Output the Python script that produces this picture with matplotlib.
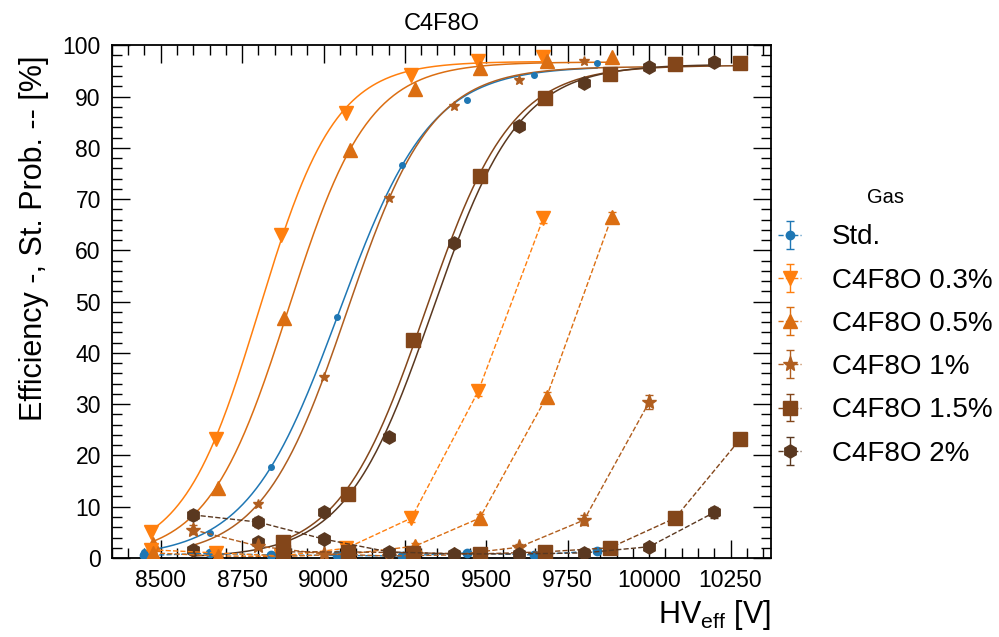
import numpy as np
import matplotlib
matplotlib.use("Agg")
import matplotlib.pyplot as plt
from matplotlib.ticker import MultipleLocator

plt.rcParams['font.family'] = ['Liberation Sans', 'DejaVu Sans']
plt.rcParams['mathtext.default'] = 'regular'

# gas mixtures
gases = ["Std.", "C4F8O 0.3%", "C4F8O 0.5%", "C4F8O 1%", "C4F8O 1.5%", "C4F8O 2%"]
colors = ["#1f77b4", "#ff7f0e", "#db6e12", "#b05e1f", "#83461a", "#5a3820"]
markers = ["o", "v", "^", "*", "s", "h"]
eff_ms = [4, 10, 10, 7, 9.5, 9.5]
st_ms = [6, 10, 10, 11, 9.5, 9.5]

# effective HV [V]
hv_std = [8450, 8650, 8840, 9040, 9240, 9440, 9645, 9840]
hv_03 = [8470, 8670, 8870, 9070, 9270, 9475, 9675]
hv_05 = [8475, 8675, 8880, 9080, 9280, 9480, 9685, 9885]
hv_1 = [8600, 8800, 9000, 9200, 9400, 9600, 9800, 10000]
hv_15 = [8875, 9075, 9275, 9480, 9680, 9880, 10080, 10280]
hv_2 = [8600, 8800, 9000, 9200, 9400, 9600, 9800, 10000, 10200]

# efficiency [%]
eff_std = [1.2, 4.9, 17.7, 47.0, 76.6, 89.3, 94.2, 96.6]
eff_03 = [5.0, 23.2, 63.0, 86.7, 94.2, 97.0, 97.8]
eff_05 = [2.8, 13.6, 46.8, 79.5, 91.4, 95.5, 97.0, 97.8]
eff_1 = [1.5, 10.5, 35.3, 70.2, 88.1, 93.2, 96.9, np.nan]
eff_15 = [3.1, 12.5, 42.5, 74.5, 89.7, 94.4, 96.4, 96.5]
eff_2 = [1.5, 3.1, 9.0, 23.6, 61.4, 84.2, 92.7, 95.7, 96.8]

# streamer probability [%]
st_std = [0.5, 0.9, 0.6, 0.5, 0.4, 1.0, 0.6, 1.4]
st_03 = [1.6, 1.0, 0.4, 1.9, 7.8, 32.5, 66.3]
st_05 = [1.0, 0.4, 0.3, 0.8, 2.3, 7.8, 31.4, 66.5]
st_1 = [5.5, 2.3, 0.8, 0.4, 0.6, 2.1, 7.4, 30.4]
st_15 = [1.2, 1.2, 1.0, 0.8, 1.2, 2.0, 7.8, 23.2]
st_2 = [8.4, 7.0, 3.7, 1.2, 0.8, 0.8, 1.0, 2.2, 8.9]

st_err_std = [0.3, 0.4, 0.3, 0.3, 0.3, 0.4, 0.3, 0.5]
st_err_03 = [0.5, 0.4, 0.3, 0.5, 0.8, 1.0, 1.0]
st_err_05 = [0.4, 0.3, 0.3, 0.4, 0.6, 0.8, 1.0, 1.0]
st_err_1 = [0.9, 0.6, 0.4, 0.3, 0.3, 0.6, 1.0, 1.4]
st_err_15 = [0.5, 0.5, 0.4, 0.4, 0.5, 0.6, 0.8, 1.0]
st_err_2 = [1.0, 1.0, 0.7, 0.5, 0.4, 0.4, 0.4, 0.6, 1.0]

hvs = [hv_std, hv_03, hv_05, hv_1, hv_15, hv_2]
effs = [eff_std, eff_03, eff_05, eff_1, eff_15, eff_2]
sts = [st_std, st_03, st_05, st_1, st_15, st_2]
st_errs = [st_err_std, st_err_03, st_err_05, st_err_1, st_err_15, st_err_2]


def sigmoid(x, emax, lam, hv50):
    return emax / (1 + np.exp(-lam * (x - hv50)))


def fit_sigmoid(x, y):
    # small Levenberg-Marquardt in scaled units (x in 100 V)
    x = np.asarray(x, float)
    y = np.asarray(y, float)
    m = ~np.isnan(y)
    u, y = (x[m] - 9000) / 100.0, y[m]
    p = np.array([y.max(), 0.8, np.interp(y.max() / 2, y, u)])
    damp = 1e-2
    f = lambda q: sigmoid(u, *q)
    cost = np.sum((y - f(p)) ** 2)
    for _ in range(200):
        r = y - f(p)
        J = np.empty((len(u), 3))
        for i in range(3):
            dp = np.zeros(3)
            dp[i] = 1e-6 * max(abs(p[i]), 1e-3)
            J[:, i] = (f(p + dp) - f(p)) / dp[i]
        A = J.T @ J
        step = np.linalg.solve(A + damp * np.diag(np.diag(A)), J.T @ r)
        new = p + step
        new_cost = np.sum((y - f(new)) ** 2)
        if new_cost < cost:
            p, cost, damp = new, new_cost, damp * 0.3
        else:
            damp *= 10
    return p[0], p[1] / 100.0, p[2] * 100.0 + 9000


fig, ax = plt.subplots(figsize=(9.99, 6.37), dpi=100)
fig.subplots_adjust(left=0.112, right=0.772, bottom=0.124, top=0.929)

handles = []
for i, gas in enumerate(gases):
    hv = np.array(hvs[i], float)
    eff = np.array(effs[i], float)
    c = colors[i]
    emax, lam, hv50 = fit_sigmoid(hv, eff)
    xs = np.linspace(hv.min(), hv.max(), 300)
    ax.plot(xs, sigmoid(xs, emax, lam, hv50), '-', color=c, lw=1.1, zorder=3)
    ax.plot(hv, eff, linestyle='none', marker=markers[i], ms=eff_ms[i],
            color=c, mec=c, zorder=4)
    eb = ax.errorbar(hv, sts[i], yerr=st_errs[i], fmt='--', marker=markers[i],
                     ms=st_ms[i], color=c, lw=1.0, elinewidth=1.0, capsize=3,
                     zorder=4)
    handles.append(eb)

ax.set_xlim(8350, 10375)
ax.set_ylim(0, 100)
ax.xaxis.set_major_locator(MultipleLocator(250))
ax.xaxis.set_minor_locator(MultipleLocator(50))
ax.yaxis.set_major_locator(MultipleLocator(10))
ax.yaxis.set_minor_locator(MultipleLocator(2))
ax.tick_params(which='both', direction='in', top=True, right=True, labelsize=16.5)
ax.tick_params(which='major', length=13, width=1.0, pad=8)
ax.tick_params(which='minor', length=7, width=1.0)
for s in ax.spines.values():
    s.set_linewidth(1.3)

ax.set_title("C4F8O", fontsize=17, pad=11)
ax.set_xlabel("HV$_{eff}$ [V]", fontsize=22, loc='right')
ax.set_ylabel("Efficiency -, St. Prob. -- [%]", fontsize=22, loc='top', labelpad=10)
ax.yaxis.label.set_y(0.98)

ax.legend(handles, gases, title="Gas", loc='upper left', bbox_to_anchor=(0.972, 0.77),
          frameon=False, fontsize=20, title_fontsize=14.5, handlelength=0.85,
          handletextpad=1.1, labelspacing=0.62)

fig.savefig("out.png", dpi=100)
